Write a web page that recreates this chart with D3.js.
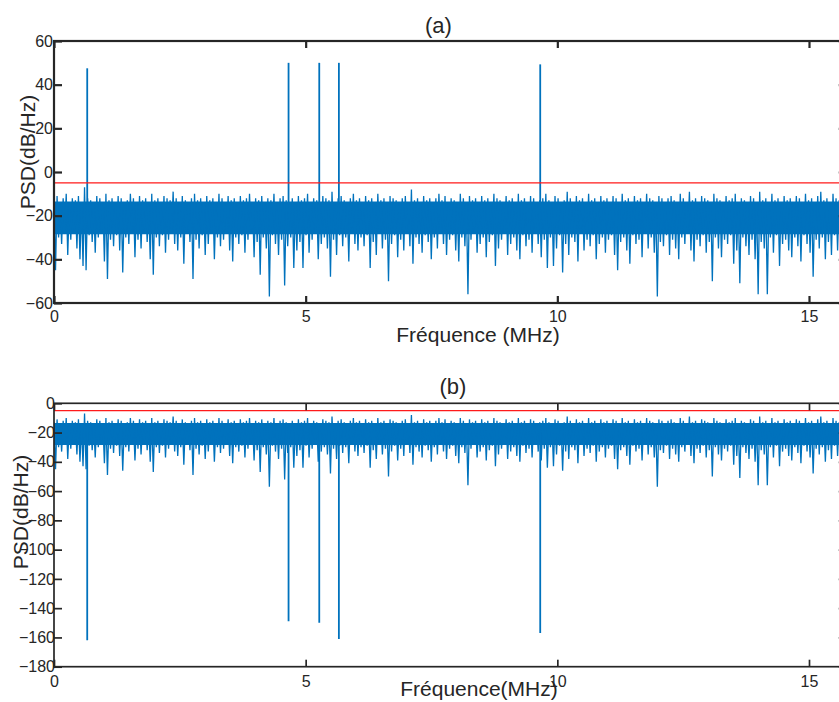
<!DOCTYPE html>
<html><head><meta charset="utf-8">
<script src="https://cdn.jsdelivr.net/npm/d3@7"></script>
<style>html,body{margin:0;padding:0;background:#fff}svg{display:block}text{font-family:"Liberation Sans",Arial,sans-serif;fill:#262626}</style>
</head><body>
<script>
// ---------- data ----------
const xTicks = [0, 5, 10, 15];
const yTicksA = [-60, -40, -20, 0, 20, 40, 60];
const yTicksB = [-180, -160, -140, -120, -100, -80, -60, -40, -20, 0];
const xMax = 15.75;            // MHz (axis limit)
const threshold = -5;          // dB/Hz (red line)
// tone frequencies (MHz)
const toneFreqs = [0.66, 4.66, 5.27, 5.66, 9.66];
// (a) tone peaks (dB/Hz)
const tonePeaksA = [47.5, 50, 50, 50, 49.3];
// (b) notches after suppression (dB/Hz)
const toneDipsB = [-162, -149, -150, -161, -157];
// dense part of the noise floor (dB/Hz): [top, bottom]
const noiseCore = [-13.5, -28.5];
// noise floor: upper excursions (alternating points of the spectrum)
const noiseHi = [
-13,-11,-14,-12,-10,-15,-12,-13,-11,-14,-7,-12,-13,-15,-11,-12,-14,-10,-13,-12,
-14,-11,-12,-15,-13,-10,-12,-14,-11,-13,-12,-15,-10,-13,-12,-14,-11,-12,-13,-9,
-12,-14,-11,-13,-15,-12,-10,-13,-12,-14,-11,-13,-12,-15,-10,-12,-14,-11,-13,-12,
-15,-11,-13,-12,-10,-14,-12,-13,-11,-15,-12,-13,-10,-14,-12,-11,-13,-15,-12,-14,
-11,-13,-12,-10,-14,-12,-13,-15,-11,-12,-13,-9,-14,-12,-11,-13,-15,-12,-10,-13,
-12,-14,-11,-13,-12,-15,-10,-13,-12,-14,-11,-12,-13,-15,-12,-11,-14,-8,-13,-12,
-14,-11,-13,-12,-15,-12,-10,-13,-11,-14,-12,-13,-15,-10,-12,-14,-11,-13,-12,-15,
-11,-13,-12,-14,-10,-12,-13,-15,-11,-13,-12,-14,-10,-13,-12,-15,-11,-12,-14,-13,
-12,-10,-13,-14,-11,-12,-15,-13,-9,-12,-14,-11,-13,-12,-15,-10,-13,-12,-14,-11,
-13,-12,-15,-11,-12,-14,-10,-13,-12,-15,-11,-13,-12,-14,-10,-12,-13,-15,-11,-12,
-14,-12,-11,-13,-15,-10,-12,-14,-9,-13,-12,-15,-11,-12,-13,-14,-10,-12,-13,-15,
-11,-13,-12,-10,-14,-12,-13,-15,-11,-12,-14,-9,-13,-12,-15,-10,-13,-12,-14,-11,
-13,-12,-15,-11,-12,-14,-10,-13,-12,-15,-11,-9,-13,-12,-14,-10,-12,-13,-15,-11];
// noise floor: lower excursions
const noiseLo = [
-45,-30,-33,-28,-38,-31,-27,-35,-40,-43,-45,-29,-32,-37,-30,-28,-41,-49,-31,-34,
-29,-36,-46,-30,-33,-27,-39,-31,-35,-28,-32,-40,-47,-30,-34,-29,-37,-31,-27,-33,
-36,-30,-42,-28,-32,-49,-31,-35,-29,-38,-33,-27,-40,-30,-34,-31,-28,-36,-41,-30,
-33,-29,-37,-31,-28,-39,-32,-47,-30,-35,-57,-29,-33,-38,-31,-52,-34,-30,-44,-36,
-32,-44,-29,-37,-31,-28,-40,-33,-30,-35,-48,-31,-38,-29,-34,-30,-41,-27,-33,-36,
-30,-34,-29,-44,-32,-38,-28,-35,-31,-50,-33,-29,-39,-31,-36,-28,-34,-42,-30,-33,
-37,-29,-32,-40,-30,-35,-28,-33,-38,-31,-29,-36,-41,-30,-34,-56,-31,-28,-37,-33,
-30,-39,-32,-29,-43,-35,-31,-28,-38,-33,-30,-36,-40,-29,-34,-31,-37,-28,-33,-39,
-31,-44,-30,-43,-35,-29,-46,-33,-38,-30,-32,-41,-28,-36,-31,-34,-29,-40,-33,-30,
-37,-31,-29,-38,-45,-32,-30,-36,-42,-29,-33,-31,-39,-28,-35,-30,-37,-57,-32,-34,
-29,-38,-31,-35,-40,-30,-33,-28,-36,-41,-31,-34,-29,-37,-32,-50,-30,-35,-39,-31,
-33,-29,-42,-36,-51,-30,-34,-38,-31,-40,-56,-32,-35,-56,-30,-37,-29,-43,-33,-31,
-36,-39,-30,-34,-41,-29,-33,-37,-48,-31,-35,-30,-40,-32,-38,-29,-36,-45,-31,-44];

// ---------- drawing ----------
const W = 839, H = 702;
const svg = d3.select("body").append("svg").attr("width", W).attr("height", H);
const blue = "#0072BD";

// build the spectrum samples (alternating upper / lower excursions)
const N = noiseHi.length * 2;
const fStep = xMax / (N - 1);
const spectrum = [];
for (let k = 0; k < noiseHi.length; k++) {
  spectrum.push({f: (2 * k) * fStep, v: noiseHi[k]});
  spectrum.push({f: (2 * k + 1) * fStep, v: noiseLo[k]});
}

function panel(cfg) {
  const x = d3.scaleLinear().domain([0, xMax]).range([cfg.left, cfg.right]);
  const y = d3.scaleLinear().domain(cfg.yDomain).range([cfg.bottom, cfg.top]);
  const g = svg.append("g");
  const clipId = "clip" + cfg.id;
  svg.append("clipPath").attr("id", clipId).append("rect")
    .attr("x", cfg.left).attr("y", cfg.top)
    .attr("width", cfg.right - cfg.left).attr("height", cfg.bottom - cfg.top);
  const plot = g.append("g").attr("clip-path", `url(#${clipId})`);

  // dense core of the noise floor
  plot.append("path").datum([0, xMax])
    .attr("fill", blue)
    .attr("d", d3.area().x(d => x(d)).y0(y(noiseCore[1])).y1(y(noiseCore[0])));
  // noise spectrum
  plot.append("path").datum(spectrum)
    .attr("fill", "none").attr("stroke", blue).attr("stroke-width", 1.3)
    .attr("stroke-linejoin", "bevel")
    .attr("d", d3.line().x(d => x(d.f)).y(d => y(d.v)));
  // tones
  plot.selectAll("line.tone").data(toneFreqs.map((f, i) => ({f, v: cfg.tones[i]})))
    .enter().append("line").attr("class", "tone")
    .attr("x1", d => x(d.f)).attr("x2", d => x(d.f))
    .attr("y1", y(cfg.toneBase)).attr("y2", d => y(d.v))
    .attr("stroke", blue).attr("stroke-width", 1.8);
  // threshold
  plot.append("line")
    .attr("x1", cfg.left).attr("x2", cfg.right)
    .attr("y1", y(threshold)).attr("y2", y(threshold))
    .attr("stroke", "#ff1a1a").attr("stroke-width", 1.4);

  // axes (ticks inside on all four sides)
  const fontSize = "16px";
  const axL = g.append("g").attr("transform", `translate(${cfg.left},0)`)
    .call(d3.axisLeft(y).tickValues(cfg.yTicks).tickSize(-8).tickPadding(cfg.yPad).tickFormat(d3.format("d")));
  const axR = g.append("g").attr("transform", `translate(${cfg.right},0)`)
    .call(d3.axisRight(y).tickValues(cfg.yTicks).tickSize(-8).tickFormat(""));
  const axB = g.append("g").attr("transform", `translate(0,${cfg.bottom})`)
    .call(d3.axisBottom(x).tickValues(xTicks).tickSize(-7).tickPadding(cfg.xPad).tickFormat(d3.format("d")));
  const axT = g.append("g").attr("transform", `translate(0,${cfg.top})`)
    .call(d3.axisTop(x).tickValues(xTicks).tickSize(-7).tickFormat(""));
  [axL, axR, axB, axT].forEach(a => {
    a.select(".domain").remove();
    a.selectAll(".tick line").attr("stroke", "#262626").attr("stroke-width", cfg.lw);
    a.selectAll("text").attr("font-size", fontSize).attr("fill", "#262626")
      .style("font-family", '"Liberation Sans", Arial, sans-serif');
  });
  // box
  g.append("rect").attr("x", cfg.left).attr("y", cfg.top)
    .attr("width", cfg.right - cfg.left).attr("height", cfg.bottom - cfg.top)
    .attr("fill", "none").attr("stroke", "#262626").attr("stroke-width", cfg.lw);

  // labels
  g.append("text").attr("x", cfg.titleX).attr("y", cfg.titleY)
    .attr("text-anchor", "middle").attr("font-size", "22px").text(cfg.title);
  g.append("text").attr("x", cfg.xlabX).attr("y", cfg.xlabY)
    .attr("text-anchor", "middle").attr("font-size", "21px").text(cfg.xlabel);
  g.append("text").attr("transform", `translate(${cfg.ylabX},${cfg.ylabY}) rotate(-90)`)
    .attr("text-anchor", "middle").attr("font-size", "21px").text("PSD(dB/Hz)");
}

const left = 54, right = 54 + (809 - 54) / 15 * xMax;

panel({
  id: "a", left, right, top: 41, bottom: 303, yDomain: [-60, 60], yTicks: yTicksA,
  tones: tonePeaksA, toneBase: -15, yPad: 1, xPad: 7.6, lw: 2.2,
  title: "(a)", titleX: 438.5, titleY: 32.5,
  xlabel: "Fréquence (MHz)", xlabX: 478, xlabY: 342,
  ylabX: 35, ylabY: 152
});
panel({
  id: "b", left, right, top: 403.3, bottom: 666.7, yDomain: [-180, 0], yTicks: yTicksB,
  tones: toneDipsB, toneBase: -20, yPad: -1, xPad: 8.9, lw: 1.7,
  title: "(b)", titleX: 453, titleY: 393.5,
  xlabel: "Fréquence(MHz)", xlabX: 479, xlabY: 696,
  ylabX: 28, ylabY: 512
});
</script>
</body></html>
